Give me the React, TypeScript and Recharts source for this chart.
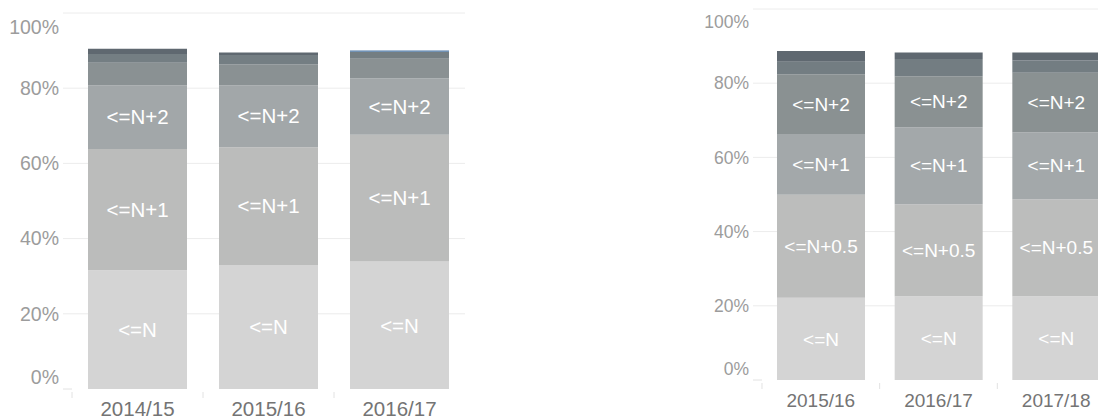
import React from 'react';
import { BarChart, Bar, XAxis, YAxis, CartesianGrid, LabelList } from 'recharts';

// ---------- Data ----------
const percentTicks = [0, 20, 40, 60, 80, 100];

const leftCategories = ['2014/15', '2015/16', '2016/17'];
const leftN = [31.6, 33.0, 33.9];
const leftN1 = [32.2, 31.3, 33.7];
const leftN2 = [17.0, 16.5, 15.0];
const leftN3 = [6.0, 5.6, 5.2];
const leftN4 = [2.3, 2.4, 1.9];
const leftN5 = [1.4, 0.7, 0];
const leftOther = [0, 0, 0.3];

const rightCategories = ['2015/16', '2016/17', '2017/18'];
const rightN = [22.2, 22.6, 22.6];
const rightN05 = [27.7, 24.8, 26.1];
const rightN1 = [16.4, 20.7, 18.1];
const rightN2 = [16.1, 13.8, 16.0];
const rightN3 = [3.4, 4.6, 3.3];
const rightN4 = [2.9, 1.8, 2.2];

type Series = { key: string; name: string; values: number[]; color: string; label: boolean };

const leftSeries: Series[] = [
  { key: 's1', name: '<=N', values: leftN, color: '#d4d4d4', label: true },
  { key: 's2', name: '<=N+1', values: leftN1, color: '#bbbcbb', label: true },
  { key: 's3', name: '<=N+2', values: leftN2, color: '#a2a7a9', label: true },
  { key: 's4', name: '<=N+3', values: leftN3, color: '#8a9193', label: false },
  { key: 's5', name: '<=N+4', values: leftN4, color: '#747e83', label: false },
  { key: 's6', name: '<=N+5', values: leftN5, color: '#5f6870', label: false },
  { key: 's7', name: 'Other', values: leftOther, color: '#4e79a7', label: false },
];

const rightSeries: Series[] = [
  { key: 's1', name: '<=N', values: rightN, color: '#d4d4d4', label: true },
  { key: 's2', name: '<=N+0.5', values: rightN05, color: '#bcbdbc', label: true },
  { key: 's3', name: '<=N+1', values: rightN1, color: '#a3a8aa', label: true },
  { key: 's4', name: '<=N+2', values: rightN2, color: '#8a9192', label: true },
  { key: 's5', name: '<=N+3', values: rightN3, color: '#737d82', label: false },
  { key: 's6', name: '<=N+4', values: rightN4, color: '#5f6870', label: false },
];

const FONT = '"Liberation Sans", Arial, sans-serif';

type PanelProps = {
  categories: string[];
  series: Series[];
  width: number;
  top: number;
  xAxisHeight: number;
  barSize: number;
  band: number;
  yFont: number;
  xFont: number;
  labelFont: number;
  topShift: number;
  bottomShift: number;
  xBaseline: number;
};

function Panel(p: PanelProps) {
  const data = p.categories.map((c, i) => {
    const row: Record<string, any> = { cat: c };
    p.series.forEach((s) => (row[s.key] = s.values[i]));
    return row;
  });

  const YTick = (props: any) => {
    const { x, y, payload } = props;
    let yy = y;
    if (payload.value === 100) yy = y + p.topShift;
    if (payload.value === 0) yy = y - p.bottomShift;
    return (
      <text x={x - 4} y={yy} dy="0.35em" textAnchor="end" fill="#9c9c9c" fontSize={p.yFont} fontFamily={FONT}>
        {payload.value + '%'}
      </text>
    );
  };

  const XTick = (props: any) => {
    const { x, y, payload, index } = props;
    const half = p.band / 2;
    return (
      <g>
        <line x1={x - half} x2={x - half} y1={y + 3} y2={y + 9} stroke="#e2e2e2" strokeWidth={1} />
        {index === 0 && <line x1={x - half - 9} x2={x - half} y1={y} y2={y} stroke="#e2e2e2" strokeWidth={1} />}
        <text x={x} y={y + p.xBaseline} textAnchor="middle" fill="#747474" fontSize={p.xFont} fontFamily={FONT}>
          {payload.value}
        </text>
      </g>
    );
  };

  return (
    <BarChart
      width={p.width}
      height={418}
      data={data}
      margin={{ top: p.top, right: 5, bottom: 0, left: 0 }}
      barSize={p.barSize}
    >
      <CartesianGrid vertical={false} horizontalValues={[20, 40, 60, 80, 100]} stroke="#ececec" strokeWidth={1} />
      <XAxis
        dataKey="cat"
        height={p.xAxisHeight}
        axisLine={false}
        tickLine={false}
        tickSize={0}
        tickMargin={0}
        padding={{ left: 9, right: 0 }}
        tick={<XTick />}
        interval={0}
      />
      <YAxis
        width={63}
        domain={[0, 100]}
        ticks={percentTicks}
        axisLine={false}
        tickLine={false}
        tickSize={0}
        tickMargin={0}
        tick={<YTick />}
        interval={0}
      />
      {p.series.map((s) => (
        <Bar key={s.key} dataKey={s.key} name={s.name} stackId="a" fill={s.color} isAnimationActive={false}>
          {s.label && (
            <LabelList
              dataKey={s.key}
              position="center"
              fill="#ffffff"
              fontSize={p.labelFont}
              fontFamily={FONT}
              formatter={() => s.name}
            />
          )}
        </Bar>
      ))}
    </BarChart>
  );
}

export default function App() {
  return (
    <div
      style={{
        position: 'fixed',
        top: 0,
        left: 0,
        width: 1098,
        height: 418,
        overflow: 'hidden',
        background: '#ffffff',
      }}
    >
      <div style={{ position: 'absolute', left: 0, top: 0 }}>
        <Panel
          categories={leftCategories}
          series={leftSeries}
          width={470}
          top={13}
          xAxisHeight={29}
          barSize={99}
          band={131}
          yFont={19.5}
          xFont={20.5}
          labelFont={20.5}
          topShift={14}
          bottomShift={12}
          xBaseline={26.5}
        />
      </div>
      <div style={{ position: 'absolute', left: 690, top: 0 }}>
        <Panel
          categories={rightCategories}
          series={rightSeries}
          width={430}
          top={9}
          xAxisHeight={38}
          barSize={88}
          band={117.7}
          yFont={17.5}
          xFont={19}
          labelFont={19}
          topShift={13}
          bottomShift={11}
          xBaseline={26.5}
        />
      </div>
    </div>
  );
}
